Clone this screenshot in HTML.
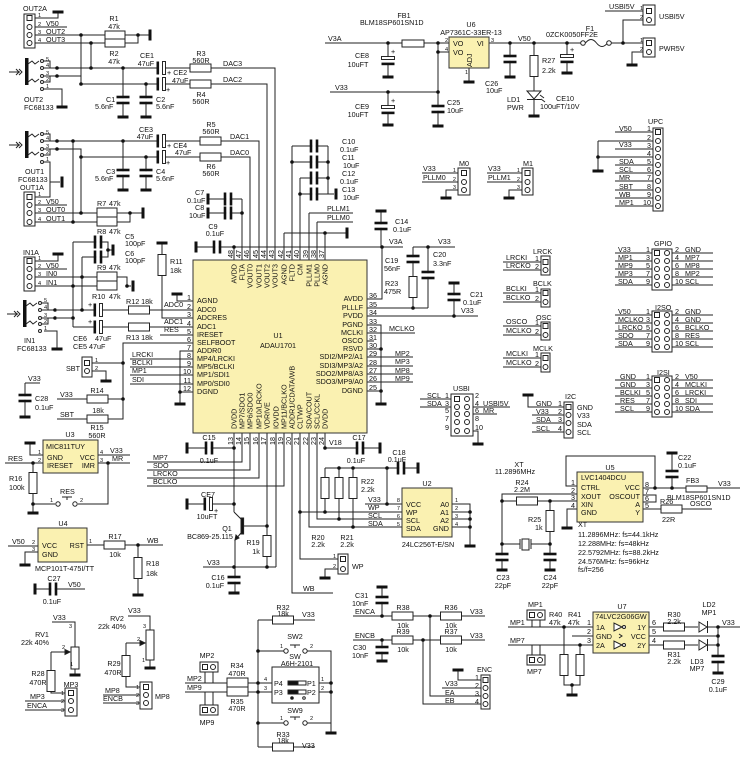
<!DOCTYPE html>
<html><head><meta charset="utf-8">
<style>
html,body{margin:0;padding:0;background:#fff}
svg{display:block}
text{font-family:"Liberation Sans",sans-serif;font-size:7.2px;fill:#111}
.m{text-anchor:middle}.e{text-anchor:end}
.s{font-size:6.6px}.n{font-size:5.6px}
</style></head><body>
<svg width="740" height="763" viewBox="0 0 740 763" xmlns="http://www.w3.org/2000/svg">
<defs>
<rect id="gh" x="-5.5" y="-1.5" width="11" height="3" fill="#111"/>
<rect id="gv" x="-1.5" y="-5.5" width="3" height="11" fill="#111"/>
<circle id="d" r="1.8" fill="#111"/>
<g id="cv"><rect x="-7" y="-1.8" width="14" height="3.6" fill="#fff"/><rect x="-6.5" y="-4.3" width="13" height="2.6" fill="#111"/><rect x="-6.5" y="1.7" width="13" height="2.6" fill="#111"/></g>
<g id="ch"><rect x="-1.8" y="-7" width="3.6" height="14" fill="#fff"/><rect x="-4.3" y="-6.5" width="2.6" height="13" fill="#111"/><rect x="1.7" y="-6.5" width="2.6" height="13" fill="#111"/></g>
<g id="eh"><rect x="-2" y="-7" width="4" height="14" fill="#fff"/><rect x="-4.5" y="-6.5" width="2.6" height="13" fill="#111"/><rect x="1.5" y="-6.5" width="3" height="13" fill="#fff" stroke="#111" stroke-width="0.9"/></g>
<g id="ev"><rect x="-7" y="-2" width="14" height="4" fill="#fff"/><rect x="-6.5" y="-4.5" width="13" height="3" fill="#fff" stroke="#111" stroke-width="0.9"/><rect x="-6.5" y="1.6" width="13" height="2.6" fill="#111"/></g>
<rect id="rh" x="-10.5" y="-4" width="21" height="8" fill="#fff" stroke="#222"/>
<rect id="rv" x="-4" y="-10.5" width="8" height="21" fill="#fff" stroke="#222"/>
<circle id="p" r="2.5" fill="#fff" stroke="#222"/>
<rect id="s" x="-2.5" y="-2.5" width="5" height="5" fill="#fff" stroke="#222"/>
<g id="jk"><rect x="25" y="0" width="3.5" height="27" fill="#111"/>
<path d="M9 14H20M16 11l3 3-3 3M19 11l3 3-3 3M28 6l4-3 3 3 4-3M28 24l4-3 3 3 4-3M44 10H57M44 3H50V10M44 18H57M44 24H50V18" fill="none" stroke="#222"/>
<circle cx="42" cy="3" r="1.5" fill="#fff" stroke="#222"/><circle cx="42" cy="10" r="1.5" fill="#fff" stroke="#222"/><circle cx="42" cy="18" r="1.5" fill="#fff" stroke="#222"/><circle cx="42" cy="24" r="1.5" fill="#fff" stroke="#222"/><circle cx="42" cy="31" r="1.5" fill="#fff" stroke="#222"/></g>
</defs>

<!-- WIRES -->
<path fill="none" stroke="#222" stroke-width="1" d="
M35 18H58V12M35 27H67M35 35H105M35 43H105M125 35H150M125 43H138V35
M81 35V84M91 43V68
M57 68H275V260M57 76H81M81 84H267V260
M123 68V117M146 84V117
M57 141H259V260M57 149H81V213M81 157H250V260
M73 141V222M123 141V190M146 157V190
M44 89H62V106M44 162H50V182H60
M35 197H50V182M35 205H67M35 213H142M35 222H97M117 222H130V213
M73 242H108V257H82M108 250H112
M73 242V327M82 257V310
M35 261H58V254M35 269H67M35 277H97M35 286H97M117 277H127V286H131
M57 310H193M57 318H73M73 327H193M44 331H57V348
M162 243V318H193M193 301H177V294M160 335H193
M193 343H123V419H57M57 399H123
M92 363H123M92 371H106V380
M193 351H180V403M180 392H193
M130 359H193M130 367H193M130 375H193M130 384H193
M25 383H40M25 383V416
M43 455H30V443M43 463H5M33 463V512M33 504H55M78 504H108V463M98 455H130M98 463H130
M62 497H72M67 497V500
M8 546H38M38 552H25V564M87 545H163M138 545V594
M35 589H85
M52 622H75V674M51 652H68M51 652V693H65M25 701H65M25 710H65
M128 616H150V667M126 643H144M126 643V687H140M103 695H140M103 703H140
M258 620V747M258 620H315M258 651H284M307 651H331V732M318 683H331M318 692H331M258 723H284M307 723H331M258 747H315
M290 645H300M295 645V648M290 717H300M295 717V720
M185 683H272M185 692H272M205 672V683M213 672V683M205 705V692M213 705V692
M187 448H234M234 433V512M187 504H234M234 512L241 519M241 533L235 540V593M243 526H267
M267 433V567M203 567H276M276 433V567
M147 462H242V433M147 470H250V433M147 478H259V433M147 486H284V433
M292 433V593H333M300 433V559H338M309 433V527H402M317 433V519H402M300 512H402
M325 468V512M339 468V519M353 468V527M325 468H418M387 468V504M365 504H402
M325 433V448H380M338 569H325V577
M452 504H470V545M452 512H470M452 519H470M452 527H470
M367 299H382V247M196 247H403M381 211V247
M413 247H455M413 247V308M428 247V308M367 308H428
M367 316H478M454 283V316
M367 325H381V403M367 349H381M367 391H381
M367 333H415M367 341H374M367 357H413M367 366H413M367 374H413M367 382H413
M234 247V260M242 199V260M208 199H242M208 213H242M284 233H347M284 233V260M325 233V260
M292 146V260M292 146H328M292 162H328M300 178V260M300 178H328M300 194H334M328 146V194
M309 213H353M309 213V260M317 222H353M317 222V260
M186 301H193M186 310H193M186 318H193M186 327H193M186 335H193M186 343H193M186 351H193M186 359H193M186 367H193M186 375H193M186 384H193M186 392H193
M367 299H374M367 308H374M367 316H374M367 325H374M367 333H374M367 341H374M367 349H374M367 357H374M367 366H374M367 374H374M367 382H374M367 391H374
M325 43H449M388 43V76M438 43V92M438 52H449M330 92H438M388 92V124M438 92V125M469 68V81
M489 43H581M611 43H643M623 43V20H643M605 11H643M510 43V76M534 43V115M567 43V72M643 52H632V64
M585.5 43q5.5 -7 11 0t11 0
M422 173H458M422 182H458M458 190H446V197M487 173H522M487 182H522M522 190H509V197
M615 132H653M598 141H653M598 141V170M615 149H653M598 157H653M615 165H653M615 173H653M615 181H653M615 190H653M615 198H653M615 206H653
M503 262H541M503 270H541M503 293H541M503 302H541M503 326H541M503 335H541M503 358H541M503 367H541
M615 253H652M615 261H652M615 269H652M615 277H652M615 285H652M672 253H713M672 261H713M672 269H713M672 277H713M672 285H713
M615 315H652M615 323H652M615 331H652M615 339H652M615 347H652M672 315H713M672 323H713M672 331H713M672 339H713M672 347H713
M615 380H652M615 388H652M615 396H652M615 404H652M615 412H652M672 380H713M672 388H713M672 396H713M672 404H713M672 412H713
M420 399H451M420 407H451M473 407H510M473 414H497M473 431H478V443
M528 395V407H564M532 415H564M532 423H564M532 432H564
M577 486H566V456H655V488M643 488H740M672 453V488M643 495H656V502H643M643 509H712
M577 494H502V569M502 501H577M550 501V569M502 544H520M531 544H550M577 509H567V527
M520 539V549M531 539V549
M382 587V616M353 616H485M353 640H485M382 640V660M430 616V696H481M423 640V704H481M442 688H481M481 680H458V670
M508 627H593M532 620V627M540 620V627M508 645H593M532 645V655M540 645V655
M564 627V685H580V645M572 685V694M593 636H572
M649 627H698M649 645H698M649 636H718M708 627H740M708 645H718M718 627V672
"/>

<!-- jacks -->
<use href="#jk" x="0" y="58"/>
<use href="#jk" x="0" y="131"/>
<use href="#jk" x="-2" y="300"/>

<!-- yellow ICs -->
<g fill="#faf1b1" stroke="#333" stroke-width="1">
<rect x="193" y="260" width="174" height="173"/>
<rect x="43" y="440" width="55" height="33"/>
<rect x="38" y="528" width="49" height="34"/>
<rect x="402" y="488" width="50" height="49"/>
<rect x="449" y="37" width="40" height="31"/>
<rect x="577" y="472" width="66" height="50"/>
<rect x="593" y="612" width="56" height="41"/>
</g>

<!-- resistors / boxes -->
<g fill="#fff" stroke="#222">
<rect x="105" y="31" width="20" height="16"/><path d="M105 39H125"/>
<rect x="97" y="208" width="20" height="18"/><path d="M97 217H117"/>
<rect x="97" y="272" width="20" height="18"/><path d="M97 281H117"/>
<rect x="227" y="678" width="21" height="18"/><path d="M227 687H248"/>
<rect x="402" y="40" width="22" height="7"/>
<rect x="686" y="486" width="21" height="6"/>
<rect x="71" y="647" width="8" height="22"/>
<rect x="146" y="630" width="8" height="30"/>
<rect x="272" y="667" width="47" height="36"/>
<rect x="522" y="539" width="7" height="11"/>
<rect x="24" y="14" width="11" height="34"/>
<rect x="24" y="192" width="11" height="34"/>
<rect x="24" y="257" width="11" height="34"/>
<rect x="82" y="357" width="10" height="20"/>
<rect x="65" y="688" width="12" height="28"/>
<rect x="140" y="682" width="12" height="27"/>
<rect x="200" y="662" width="18" height="10"/>
<rect x="200" y="705" width="18" height="10"/>
<rect x="338" y="554" width="10" height="20"/>
<rect x="643" y="5" width="12" height="20"/>
<rect x="643" y="38" width="12" height="19"/>
<rect x="458" y="168" width="12" height="27"/>
<rect x="522" y="168" width="11" height="27"/>
<rect x="653" y="128" width="10" height="83"/>
<rect x="541" y="256" width="9" height="19"/>
<rect x="541" y="289" width="9" height="18"/>
<rect x="541" y="322" width="9" height="18"/>
<rect x="541" y="353" width="9" height="19"/>
<rect x="652" y="249" width="20" height="41"/>
<rect x="652" y="311" width="20" height="41"/>
<rect x="652" y="376" width="20" height="41"/>
<rect x="451" y="394" width="22" height="42"/>
<rect x="564" y="402" width="9" height="36"/>
<rect x="481" y="675" width="9" height="34"/>
<rect x="527" y="610" width="18" height="10"/>
<rect x="527" y="655" width="18" height="10"/>
</g>
<g>
<use href="#rh" x="200.5" y="68"/><use href="#rh" x="200.5" y="84"/><use href="#rh" x="210.5" y="141"/><use href="#rh" x="210.5" y="157"/>
<use href="#rh" x="139" y="310"/><use href="#rh" x="139" y="327"/><use href="#rh" x="97.5" y="399"/><use href="#rh" x="97.5" y="419"/>
<use href="#rh" x="114.5" y="545"/><use href="#rh" x="283" y="620"/><use href="#rh" x="283" y="747"/>
<use href="#rh" x="402.5" y="616"/><use href="#rh" x="451" y="616"/><use href="#rh" x="402.5" y="640"/><use href="#rh" x="451" y="640"/>
<use href="#rh" x="527" y="501"/><use href="#rh" x="671.5" y="509"/><use href="#rh" x="674" y="627"/><use href="#rh" x="674" y="645"/>
<use href="#rv" x="162" y="265"/><use href="#rv" x="33" y="483"/><use href="#rv" x="138" y="568"/><use href="#rv" x="51" y="681"/>
<use href="#rv" x="126" y="666"/><use href="#rv" x="267" y="546"/><use href="#rv" x="325" y="488"/><use href="#rv" x="339" y="488"/>
<use href="#rv" x="353" y="488"/><use href="#rv" x="413" y="287"/><use href="#rv" x="534" y="66"/><use href="#rv" x="550" y="521"/>
<use href="#rv" x="564" y="665"/><use href="#rv" x="580" y="665"/>
<use href="#cv" x="123" y="100"/><use href="#cv" x="146" y="100"/><use href="#cv" x="123" y="173"/><use href="#cv" x="146" y="173"/>
<use href="#cv" x="25" y="398"/><use href="#cv" x="234" y="580"/><use href="#cv" x="381" y="226"/><use href="#cv" x="413" y="259"/>
<use href="#cv" x="428" y="275"/><use href="#cv" x="454" y="297"/><use href="#cv" x="438" y="109"/><use href="#cv" x="510" y="59"/>
<use href="#cv" x="672" y="474"/><use href="#cv" x="502" y="557"/><use href="#cv" x="550" y="557"/><use href="#cv" x="382" y="600"/>
<use href="#cv" x="382" y="650"/><use href="#cv" x="718" y="659"/>
<use href="#ch" x="98" y="242"/><use href="#ch" x="98" y="257"/><use href="#ch" x="228" y="199"/><use href="#ch" x="228" y="213"/>
<use href="#ch" x="217" y="247"/><use href="#ch" x="314" y="146"/><use href="#ch" x="314" y="162"/><use href="#ch" x="314" y="178"/>
<use href="#ch" x="314" y="194"/><use href="#ch" x="209" y="448"/><use href="#ch" x="360" y="448"/><use href="#ch" x="401" y="468"/>
<use href="#ch" x="53" y="589"/>
<use href="#eh" x="161" y="68"/><use href="#eh" x="161" y="84"/><use href="#eh" x="161" y="141"/><use href="#eh" x="161" y="157"/>
<use href="#eh" x="98" y="310"/><use href="#eh" x="98" y="327"/><use href="#eh" x="208" y="504"/>
<use href="#ev" x="388" y="61"/><use href="#ev" x="388" y="110"/><use href="#ev" x="567" y="59"/>
<use href="#gh" x="58" y="12"/><use href="#gh" x="123" y="117"/><use href="#gh" x="146" y="117"/><use href="#gh" x="123" y="190"/>
<use href="#gh" x="146" y="190"/><use href="#gh" x="62" y="107"/><use href="#gh" x="58" y="254"/><use href="#gh" x="162" y="243"/>
<use href="#gh" x="177" y="294"/><use href="#gh" x="57" y="349"/><use href="#gh" x="106" y="381"/><use href="#gh" x="180" y="404"/>
<use href="#gh" x="25" y="417"/><use href="#gh" x="30" y="443"/><use href="#gh" x="33" y="513"/><use href="#gh" x="25" y="565"/>
<use href="#gh" x="138" y="595"/><use href="#gh" x="75" y="675"/><use href="#gh" x="150" y="668"/><use href="#gh" x="331" y="733"/>
<use href="#gh" x="234" y="593"/><use href="#gh" x="325" y="578"/><use href="#gh" x="470" y="546"/><use href="#gh" x="381" y="404"/>
<use href="#gh" x="381" y="211"/><use href="#gh" x="454" y="283"/><use href="#gh" x="388" y="77"/><use href="#gh" x="388" y="125"/>
<use href="#gh" x="438" y="126"/><use href="#gh" x="469" y="82"/><use href="#gh" x="510" y="77"/><use href="#gh" x="534" y="116"/>
<use href="#gh" x="567" y="73"/><use href="#gh" x="632" y="65"/><use href="#gh" x="446" y="198"/><use href="#gh" x="509" y="198"/>
<use href="#gh" x="598" y="171"/><use href="#gh" x="478" y="444"/><use href="#gh" x="528" y="395"/><use href="#gh" x="672" y="453"/>
<use href="#gh" x="567" y="528"/><use href="#gh" x="502" y="570"/><use href="#gh" x="550" y="570"/><use href="#gh" x="382" y="587"/>
<use href="#gh" x="382" y="661"/><use href="#gh" x="458" y="670"/><use href="#gh" x="572" y="695"/><use href="#gh" x="718" y="673"/>
<use href="#gv" x="150" y="35"/><use href="#gv" x="62" y="182"/><use href="#gv" x="143" y="213"/><use href="#gv" x="113" y="250"/>
<use href="#gv" x="133" y="286"/><use href="#gv" x="35" y="589"/><use href="#gv" x="187" y="448"/><use href="#gv" x="187" y="504"/>
<use href="#gv" x="380" y="448"/><use href="#gv" x="418" y="468"/><use href="#gv" x="196" y="247"/><use href="#gv" x="208" y="199"/>
<use href="#gv" x="208" y="213"/><use href="#gv" x="347" y="233"/><use href="#gv" x="336" y="194"/>
<use href="#s" x="29.5" y="18"/><use href="#p" x="29.5" y="27"/><use href="#p" x="29.5" y="35"/><use href="#p" x="29.5" y="43"/>
<use href="#s" x="29.5" y="197"/><use href="#p" x="29.5" y="205"/><use href="#p" x="29.5" y="213"/><use href="#p" x="29.5" y="222"/>
<use href="#s" x="29.5" y="261"/><use href="#p" x="29.5" y="269"/><use href="#p" x="29.5" y="277"/><use href="#p" x="29.5" y="286"/>
<use href="#s" x="87" y="363"/><use href="#p" x="87" y="371"/>
<use href="#s" x="71" y="693"/><use href="#p" x="71" y="701"/><use href="#p" x="71" y="710"/>
<use href="#s" x="146" y="687"/><use href="#p" x="146" y="695"/><use href="#p" x="146" y="703"/>
<use href="#s" x="205" y="667"/><use href="#p" x="213" y="667"/><use href="#s" x="205" y="710"/><use href="#p" x="213" y="710"/>
<use href="#s" x="343" y="559"/><use href="#p" x="343" y="569"/>
<use href="#s" x="649" y="11"/><use href="#p" x="649" y="20"/><use href="#s" x="649" y="43"/><use href="#p" x="649" y="52"/>
<use href="#s" x="464" y="173"/><use href="#p" x="464" y="182"/><use href="#p" x="464" y="190"/>
<use href="#s" x="527.5" y="173"/><use href="#p" x="527.5" y="182"/><use href="#p" x="527.5" y="190"/>
<use href="#s" x="658" y="132"/><use href="#p" x="658" y="141"/><use href="#p" x="658" y="149"/><use href="#p" x="658" y="157"/><use href="#p" x="658" y="165"/><use href="#p" x="658" y="173"/><use href="#p" x="658" y="181"/><use href="#p" x="658" y="190"/><use href="#p" x="658" y="198"/><use href="#p" x="658" y="206"/>
<use href="#s" x="545.5" y="262"/><use href="#p" x="545.5" y="270"/><use href="#s" x="545.5" y="293"/><use href="#p" x="545.5" y="302"/>
<use href="#s" x="545.5" y="326"/><use href="#p" x="545.5" y="335"/><use href="#s" x="545.5" y="358"/><use href="#p" x="545.5" y="367"/>
<use href="#s" x="657" y="253"/><use href="#p" x="657" y="261"/><use href="#p" x="657" y="269"/><use href="#p" x="657" y="277"/><use href="#p" x="657" y="285"/>
<use href="#p" x="667" y="253"/><use href="#p" x="667" y="261"/><use href="#p" x="667" y="269"/><use href="#p" x="667" y="277"/><use href="#p" x="667" y="285"/>
<use href="#s" x="657" y="315"/><use href="#p" x="657" y="323"/><use href="#p" x="657" y="331"/><use href="#p" x="657" y="339"/><use href="#p" x="657" y="347"/>
<use href="#p" x="667" y="315"/><use href="#p" x="667" y="323"/><use href="#p" x="667" y="331"/><use href="#p" x="667" y="339"/><use href="#p" x="667" y="347"/>
<use href="#s" x="657" y="380"/><use href="#p" x="657" y="388"/><use href="#p" x="657" y="396"/><use href="#p" x="657" y="404"/><use href="#p" x="657" y="412"/>
<use href="#p" x="667" y="380"/><use href="#p" x="667" y="388"/><use href="#p" x="667" y="396"/><use href="#p" x="667" y="404"/><use href="#p" x="667" y="412"/>
<use href="#s" x="457" y="399"/><use href="#p" x="457" y="407"/><use href="#p" x="457" y="414"/><use href="#p" x="457" y="422"/><use href="#p" x="457" y="431"/>
<use href="#p" x="467" y="399"/><use href="#p" x="467" y="407"/><use href="#p" x="467" y="414"/><use href="#p" x="467" y="422"/><use href="#p" x="467" y="431"/>
<use href="#s" x="568.5" y="407"/><use href="#p" x="568.5" y="415"/><use href="#p" x="568.5" y="423"/><use href="#p" x="568.5" y="432"/>
<use href="#s" x="485.5" y="680"/><use href="#p" x="485.5" y="688"/><use href="#p" x="485.5" y="696"/><use href="#p" x="485.5" y="704"/>
<use href="#s" x="532" y="615"/><use href="#p" x="540" y="615"/><use href="#s" x="532" y="660"/><use href="#p" x="540" y="660"/>
</g>

<g fill="#111" stroke="#222">
<rect x="241" y="518" width="2.6" height="16"/>
<polygon points="235,540 236,535 239,538" />
<polygon points="70,652 65,649.5 65,654.5"/>
<polygon points="145,643 140,640.5 140,645.5"/>
<polygon points="527,91 541,91 534,99" fill="#fff"/><path d="M527 99.5H541M540 95l4 3M541 99l4 3" fill="none"/>
<polygon points="699,622 699,632 707,627" fill="#fff"/><path d="M707.5 621V633" fill="none"/>
<polygon points="699,640 699,650 707,645" fill="#fff"/><path d="M707.5 639V651" fill="none"/>
<polygon points="614,623 614,631 622,627" fill="#fff"/><circle cx="624" cy="627" r="1.5" fill="#fff"/>
<polygon points="614,641 614,649 622,645" fill="#fff"/><circle cx="624" cy="645" r="1.5" fill="#fff"/>
<path d="M619 634l3 2-3 2" fill="none"/>
<rect x="288" y="681" width="10" height="4"/><rect x="298" y="681" width="8" height="4" fill="#fff"/>
<rect x="288" y="690" width="10" height="4"/><rect x="298" y="690" width="8" height="4" fill="#fff"/>
<circle cx="292" cy="698" r="1.3"/><circle cx="304" cy="698" r="1.3" fill="#fff"/>
</g>
<g fill="#fff" stroke="#222">
<circle cx="58" cy="504" r="2.2"/><circle cx="75" cy="504" r="2.2"/>
<circle cx="286" cy="651" r="2.2"/><circle cx="305" cy="651" r="2.2"/>
<circle cx="286" cy="723" r="2.2"/><circle cx="305" cy="723" r="2.2"/>
<circle cx="583" cy="43" r="2.3"/><circle cx="609" cy="43" r="2.3"/>
</g>

<g>
<use href="#d" x="81" y="35"/><use href="#d" x="91" y="43"/><use href="#d" x="138" y="35"/><use href="#d" x="57" y="68"/><use href="#d" x="57" y="76"/>
<use href="#d" x="91" y="68"/><use href="#d" x="81" y="84"/><use href="#d" x="123" y="68"/><use href="#d" x="146" y="84"/>
<use href="#d" x="57" y="141"/><use href="#d" x="57" y="149"/><use href="#d" x="73" y="141"/><use href="#d" x="123" y="141"/><use href="#d" x="146" y="157"/>
<use href="#d" x="81" y="157"/><use href="#d" x="81" y="213"/><use href="#d" x="73" y="222"/><use href="#d" x="130" y="213"/><use href="#d" x="108" y="250"/>
<use href="#d" x="82" y="277"/><use href="#d" x="73" y="286"/><use href="#d" x="127" y="286"/><use href="#d" x="55" y="310"/><use href="#d" x="55" y="318"/>
<use href="#d" x="82" y="310"/><use href="#d" x="73" y="318"/><use href="#d" x="123" y="363"/><use href="#d" x="123" y="399"/><use href="#d" x="180" y="392"/>
<use href="#d" x="33" y="463"/><use href="#d" x="108" y="463"/><use href="#d" x="33" y="504"/><use href="#d" x="138" y="545"/>
<use href="#d" x="258" y="651"/><use href="#d" x="258" y="683"/><use href="#d" x="258" y="692"/><use href="#d" x="258" y="723"/><use href="#d" x="331" y="683"/><use href="#d" x="331" y="692"/>
<use href="#d" x="234" y="448"/><use href="#d" x="234" y="504"/><use href="#d" x="267" y="526"/><use href="#d" x="234" y="567"/><use href="#d" x="267" y="567"/>
<use href="#d" x="300" y="512"/><use href="#d" x="325" y="512"/><use href="#d" x="339" y="519"/><use href="#d" x="353" y="527"/><use href="#d" x="339" y="468"/>
<use href="#d" x="353" y="468"/><use href="#d" x="387" y="468"/><use href="#d" x="387" y="504"/><use href="#d" x="325" y="448"/><use href="#d" x="470" y="512"/>
<use href="#d" x="470" y="519"/><use href="#d" x="470" y="527"/><use href="#d" x="234" y="247"/><use href="#d" x="382" y="247"/><use href="#d" x="242" y="213"/>
<use href="#d" x="325" y="233"/><use href="#d" x="292" y="162"/><use href="#d" x="300" y="194"/><use href="#d" x="328" y="162"/><use href="#d" x="328" y="178"/>
<use href="#d" x="413" y="308"/><use href="#d" x="428" y="247"/><use href="#d" x="454" y="316"/><use href="#d" x="381" y="349"/><use href="#d" x="381" y="391"/>
<use href="#d" x="388" y="43"/><use href="#d" x="438" y="43"/><use href="#d" x="438" y="52"/><use href="#d" x="438" y="92"/><use href="#d" x="388" y="92"/>
<use href="#d" x="510" y="43"/><use href="#d" x="534" y="43"/><use href="#d" x="567" y="43"/><use href="#d" x="623" y="43"/><use href="#d" x="598" y="157"/>
<use href="#d" x="655" y="488"/><use href="#d" x="672" y="488"/><use href="#d" x="502" y="501"/><use href="#d" x="550" y="501"/><use href="#d" x="502" y="544"/>
<use href="#d" x="550" y="544"/><use href="#d" x="382" y="616"/><use href="#d" x="430" y="616"/><use href="#d" x="382" y="640"/><use href="#d" x="423" y="640"/>
<use href="#d" x="564" y="627"/><use href="#d" x="580" y="645"/><use href="#d" x="572" y="685"/><use href="#d" x="718" y="627"/><use href="#d" x="718" y="636"/><use href="#d" x="718" y="645"/>
</g>

<!-- TEXT -->
<g>
<text x="23" y="11">OUT2A</text>
<text x="38" y="17" class="n">1</text><text x="38" y="26" class="n">2</text><text x="46" y="26">V50</text>
<text x="38" y="34" class="n">3</text><text x="46" y="34">OUT2</text><text x="38" y="42" class="n">4</text><text x="46" y="42">OUT3</text>
<text x="114" y="21" class="m">R1</text><text x="114" y="29" class="m">47k</text><text x="114" y="56" class="m">R2</text><text x="114" y="64" class="m">47k</text>
<text x="46" y="61" class="n">5</text><text x="46" y="67" class="n">4</text><text x="46" y="75" class="n">3</text><text x="46" y="81" class="n">2</text><text x="46" y="88" class="n">1</text>
<text x="24" y="102">OUT2</text><text x="24" y="110">FC68133</text>
<text x="106" y="102">C1</text><text x="95" y="109">5.6nF</text><text x="156" y="102">C2</text><text x="156" y="109">5.6nF</text>
<text x="147" y="58" class="m">CE1</text><text x="146" y="66" class="m">47uF</text><text x="167" y="75">+ CE2</text><text x="172" y="83">47uF</text><text x="166" y="92">+</text>
<text x="201" y="56" class="m">R3</text><text x="201" y="63" class="m">560R</text><text x="201" y="97" class="m">R4</text><text x="201" y="104" class="m">560R</text>
<text x="223" y="66">DAC3</text><text x="223" y="82">DAC2</text>
<text x="146" y="132" class="m">CE3</text><text x="145" y="139" class="m">47uF</text><text x="167" y="148">+ CE4</text><text x="175" y="155">47uF</text><text x="166" y="165">+</text>
<text x="211" y="127" class="m">R5</text><text x="211" y="134" class="m">560R</text><text x="211" y="169" class="m">R6</text><text x="211" y="176" class="m">560R</text>
<text x="230" y="139">DAC1</text><text x="230" y="155">DAC0</text>
<text x="106" y="174">C3</text><text x="95" y="181">5.6nF</text><text x="156" y="174">C4</text><text x="156" y="181">5.6nF</text>
<text x="46" y="134" class="n">5</text><text x="46" y="140" class="n">4</text><text x="46" y="148" class="n">3</text><text x="46" y="154" class="n">2</text><text x="46" y="161" class="n">1</text>
<text x="25" y="174">OUT1</text><text x="18" y="182">FC68133</text><text x="20" y="190">OUT1A</text>
<text x="38" y="196" class="n">1</text><text x="38" y="204" class="n">2</text><text x="46" y="204">V50</text>
<text x="38" y="212" class="n">3</text><text x="46" y="212">OUT0</text><text x="38" y="221" class="n">4</text><text x="46" y="221">OUT1</text>
<text x="97" y="206">R7</text><text x="109" y="206">47k</text><text x="97" y="234">R8</text><text x="109" y="234">47k</text>
<text x="125" y="239">C5</text><text x="125" y="246">100pF</text><text x="125" y="256">C6</text><text x="125" y="263">100pF</text>
<text x="23" y="255">IN1A</text>
<text x="38" y="260" class="n">1</text><text x="38" y="268" class="n">2</text><text x="46" y="268">V50</text>
<text x="38" y="276" class="n">3</text><text x="46" y="276">IN0</text><text x="38" y="285" class="n">4</text><text x="46" y="285">IN1</text>
<text x="97" y="270">R9</text><text x="109" y="270">47k</text><text x="92" y="299">R10</text><text x="109" y="299">47k</text>
<text x="170" y="264">R11</text><text x="170" y="273">18k</text>
<text x="126" y="304">R12 18k</text><text x="126" y="340">R13 18k</text>
<text x="164" y="307">ADC0</text><text x="164" y="324">ADC1</text><text x="164" y="332">RES</text>
<text x="88" y="307">+</text><text x="88" y="324">+</text>
<text x="73" y="341">CE6</text><text x="95" y="341">47uF</text><text x="73" y="349">CE5 47uF</text>
<text x="44" y="302" class="n">5</text><text x="44" y="309" class="n">4</text><text x="44" y="317" class="n">3</text><text x="44" y="323" class="n">2</text><text x="44" y="330" class="n">1</text>
<text x="24" y="343">IN1</text><text x="17" y="351">FC68133</text>
<text x="66" y="371">SBT</text><text x="95" y="362" class="n">1</text><text x="95" y="370" class="n">2</text>
<text x="132" y="357">LRCKI</text><text x="132" y="365">BCLKI</text><text x="132" y="373">MP1</text><text x="132" y="382">SDI</text>
<text x="60" y="397">V33</text><text x="97" y="393" class="m">R14</text><text x="98" y="413" class="m">18k</text>
<text x="60" y="417">SBT</text><text x="97" y="430" class="m">R15</text><text x="97" y="438" class="m">560R</text>
<text x="28" y="381">V33</text><text x="35" y="401">C28</text><text x="35" y="410">0.1uF</text>
<text x="70" y="437" class="m">U3</text><text x="46" y="449">MIC811TUY</text>
<text x="47" y="460">GND</text><text x="47" y="468">IRESET</text><text x="95" y="460" class="e">VCC</text><text x="95" y="468" class="e">IMR</text>
<text x="38" y="454" class="n">1</text><text x="38" y="462" class="n">2</text><text x="100" y="454" class="n">4</text><text x="100" y="462" class="n">3</text>
<text x="8" y="461">RES</text><text x="110" y="453">V33</text><text x="112" y="461">MR</text>
<text x="9" y="481">R16</text><text x="9" y="490">100k</text>
<text x="60" y="494">RES</text><text x="50" y="502" class="n">1</text><text x="80" y="502" class="n">2</text>
<text x="63" y="526" class="m">U4</text><text x="42" y="548">VCC</text><text x="42" y="557">GND</text><text x="84" y="548" class="e">RST</text>
<text x="32" y="544" class="n">2</text><text x="32" y="551" class="n">3</text><text x="89" y="543" class="n">1</text>
<text x="12" y="544">V50</text><text x="35" y="571">MCP101T-475I/TT</text>
<text x="115" y="539" class="m">R17</text><text x="115" y="557" class="m">10k</text><text x="147" y="543">WB</text>
<text x="146" y="566">R18</text><text x="146" y="576">18k</text>
<text x="54" y="581" class="m">C27</text><text x="52" y="604" class="m">0.1uF</text><text x="68" y="587">V50</text>
<text x="53" y="620">V33</text><text x="42" y="637" class="m">RV1</text><text x="35" y="645" class="m">22k 40%</text>
<text x="62" y="649" class="n">2</text><text x="69" y="628" class="n">3</text><text x="70" y="666" class="n">1</text>
<text x="38" y="676" class="m">R28</text><text x="38" y="685" class="m">470R</text>
<text x="71" y="687" class="m">MP3</text><text x="61" y="695" class="n">1</text><text x="61" y="703" class="n">2</text><text x="61" y="712" class="n">3</text>
<text x="30" y="699">MP3</text><text x="27" y="708">ENCA</text>
<text x="128" y="613">V33</text><text x="117" y="621" class="m">RV2</text><text x="112" y="629" class="m">22k 40%</text>
<text x="137" y="641" class="n">2</text><text x="143" y="628" class="n">3</text><text x="142" y="662" class="n">1</text>
<text x="114" y="666" class="m">R29</text><text x="113" y="675" class="m">470R</text>
<text x="105" y="693">MP8</text><text x="103" y="701">ENCB</text><text x="155" y="699">MP8</text>
<text x="136" y="689" class="n">1</text><text x="136" y="697" class="n">2</text><text x="136" y="705" class="n">3</text>
<text x="283" y="610" class="m">R32</text><text x="283" y="616" class="m">18k</text><text x="302" y="617">V33</text>
<text x="295" y="639" class="m">SW2</text><text x="280" y="648" class="n">1</text><text x="310" y="648" class="n">2</text>
<text x="295" y="659" class="m">SW</text><text x="297" y="666" class="m">A6H-2101</text>
<text x="264" y="681" class="n">4</text><text x="264" y="690" class="n">3</text><text x="274" y="686">P4</text><text x="274" y="695">P3</text>
<text x="307" y="686">P1</text><text x="307" y="695">P2</text><text x="321" y="681" class="n">1</text><text x="321" y="690" class="n">2</text>
<text x="295" y="713" class="m">SW9</text><text x="280" y="720" class="n">1</text><text x="310" y="720" class="n">2</text>
<text x="283" y="737" class="m">R33</text><text x="283" y="743" class="m">18k</text><text x="302" y="748">V33</text>
<text x="207" y="658" class="m">MP2</text><text x="207" y="725" class="m">MP9</text><text x="187" y="681">MP2</text><text x="187" y="690">MP9</text>
<text x="237" y="668" class="m">R34</text><text x="237" y="676" class="m">470R</text><text x="237" y="704" class="m">R35</text><text x="237" y="711" class="m">470R</text>
<text x="209" y="440" class="m">C15</text><text x="209" y="463" class="m">0.1uF</text>
<text x="153" y="460">MP7</text><text x="153" y="468">SDO</text><text x="153" y="476">LRCKO</text><text x="153" y="484">BCLKO</text>
<text x="208" y="497" class="m">CE7</text><text x="207" y="519" class="m">10uFT</text><text x="214" y="513">+</text>
<text x="227" y="531" class="m">Q1</text><text x="210" y="539" class="m">BC869-25.115</text>
<text x="253" y="545" class="m">R19</text><text x="256" y="554" class="m">1k</text>
<text x="207" y="565">V33</text><text x="218" y="580" class="m">C16</text><text x="215" y="588" class="m">0.1uF</text>
<text x="329" y="445">V18</text><text x="359" y="440" class="m">C17</text><text x="356" y="463" class="m">0.1uF</text>
<text x="399" y="455" class="m">C18</text><text x="397" y="462" class="m">0.1uF</text>
<text x="368" y="502">V33</text><text x="368" y="510">WP</text><text x="368" y="518">SCL</text><text x="368" y="526">SDA</text>
<text x="318" y="540" class="m">R20</text><text x="318" y="547" class="m">2.2k</text><text x="347" y="540" class="m">R21</text><text x="347" y="547" class="m">2.2k</text>
<text x="361" y="484">R22</text><text x="361" y="492">2.2k</text>
<text x="427" y="486" class="m">U2</text><text x="406" y="507">VCC</text><text x="406" y="515">WP</text><text x="406" y="523">SCL</text><text x="406" y="531">SDA</text>
<text x="449" y="507" class="e">A0</text><text x="449" y="515" class="e">A1</text><text x="449" y="523" class="e">A2</text><text x="449" y="531" class="e">GND</text>
<text x="400" y="502" class="n e">8</text><text x="400" y="510" class="n e">7</text><text x="400" y="518" class="n e">6</text><text x="400" y="526" class="n e">5</text>
<text x="455" y="502" class="n">1</text><text x="455" y="510" class="n">2</text><text x="455" y="518" class="n">3</text><text x="455" y="526" class="n">4</text>
<text x="428" y="547" class="m">24LC256T-E/SN</text>
<text x="303" y="591">WB</text><text x="333" y="558" class="n">1</text><text x="333" y="568" class="n">2</text><text x="352" y="569">WP</text>

<text x="278" y="338" class="m">U1</text><text x="278" y="348" class="m">ADAU1701</text>
<g class="s">
<text x="197" y="303">AGND</text><text x="197" y="312">ADC0</text><text x="197" y="320">ADCRES</text><text x="197" y="329">ADC1</text>
<text x="197" y="337">IRESET</text><text x="197" y="345">SELFBOOT</text><text x="197" y="353">ADDR0</text><text x="197" y="361">MP4/LRCKI</text>
<text x="197" y="369">MP5/BCLKI</text><text x="197" y="377">MP1/SDI1</text><text x="197" y="386">MP0/SDI0</text><text x="197" y="394">DGND</text>
<text x="363" y="301" class="e">AVDD</text><text x="363" y="310" class="e">PLLLF</text><text x="363" y="318" class="e">PVDD</text><text x="363" y="327" class="e">PGND</text>
<text x="363" y="335" class="e">MCLKI</text><text x="363" y="343" class="e">OSCO</text><text x="363" y="351" class="e">RSVD</text><text x="363" y="359" class="e">SDI2/MP2/A1</text>
<text x="363" y="368" class="e">SDI3/MP3/A2</text><text x="363" y="376" class="e">SDO2/MP8/A3</text><text x="363" y="384" class="e">SDO3/MP9/A0</text><text x="363" y="393" class="e">DGND</text>
<text transform="translate(236.5,264) rotate(-90)" class="e">AVDD</text>
<text transform="translate(244.5,264) rotate(-90)" class="e">FLTA</text>
<text transform="translate(252.5,264) rotate(-90)" class="e">VOUT0</text>
<text transform="translate(261.5,264) rotate(-90)" class="e">VOUT1</text>
<text transform="translate(269.5,264) rotate(-90)" class="e">VOUT2</text>
<text transform="translate(277.5,264) rotate(-90)" class="e">VOUT3</text>
<text transform="translate(286.5,264) rotate(-90)" class="e">AGND</text>
<text transform="translate(294.5,264) rotate(-90)" class="e">FLTD</text>
<text transform="translate(302.5,264) rotate(-90)" class="e">CM</text>
<text transform="translate(311.5,264) rotate(-90)" class="e">PLLM1</text>
<text transform="translate(319.5,264) rotate(-90)" class="e">PLLM0</text>
<text transform="translate(327.5,264) rotate(-90)" class="e">AGND</text>
<text transform="translate(236.5,429) rotate(-90)">DVDD</text>
<text transform="translate(244.5,429) rotate(-90)">MP7/SDO1</text>
<text transform="translate(252.5,429) rotate(-90)">MP6/SDO0</text>
<text transform="translate(261.5,429) rotate(-90)">MP10/LRCKO</text>
<text transform="translate(269.5,429) rotate(-90)">VDRIVE</text>
<text transform="translate(278.5,429) rotate(-90)">IOVDD</text>
<text transform="translate(286.5,429) rotate(-90)">MP11/BCLKO</text>
<text transform="translate(294.5,429) rotate(-90)">ADDR1/CDATA/WB</text>
<text transform="translate(302.5,429) rotate(-90)">CLTWP</text>
<text transform="translate(311.5,429) rotate(-90)">SDA/COUT</text>
<text transform="translate(319.5,429) rotate(-90)">SCL/CCKL</text>
<text transform="translate(327.5,429) rotate(-90)">DVDD</text>
</g>
<g class="n">
<text x="191" y="300" class="e">1</text><text x="191" y="309" class="e">2</text><text x="191" y="317" class="e">3</text><text x="191" y="326" class="e">4</text>
<text x="191" y="334" class="e">5</text><text x="191" y="342" class="e">6</text><text x="191" y="350" class="e">7</text><text x="191" y="358" class="e">8</text>
<text x="191" y="366" class="e">9</text><text x="191" y="374" class="e">10</text><text x="191" y="383" class="e">11</text><text x="191" y="391" class="e">12</text>
<text x="369" y="298">36</text><text x="369" y="307">35</text><text x="369" y="315">34</text><text x="369" y="324">33</text>
<text x="369" y="332">32</text><text x="369" y="340">31</text><text x="369" y="348">30</text><text x="369" y="356">29</text>
<text x="369" y="365">28</text><text x="369" y="373">27</text><text x="369" y="381">26</text><text x="369" y="390">25</text>
<text transform="translate(233,258) rotate(-90)">48</text><text transform="translate(241,258) rotate(-90)">47</text>
<text transform="translate(249,258) rotate(-90)">46</text><text transform="translate(258,258) rotate(-90)">45</text>
<text transform="translate(266,258) rotate(-90)">44</text><text transform="translate(274,258) rotate(-90)">43</text>
<text transform="translate(283,258) rotate(-90)">42</text><text transform="translate(291,258) rotate(-90)">41</text>
<text transform="translate(299,258) rotate(-90)">40</text><text transform="translate(308,258) rotate(-90)">39</text>
<text transform="translate(316,258) rotate(-90)">38</text><text transform="translate(324,258) rotate(-90)">37</text>
<text transform="translate(233,445) rotate(-90)">13</text><text transform="translate(241,445) rotate(-90)">14</text>
<text transform="translate(249,445) rotate(-90)">15</text><text transform="translate(258,445) rotate(-90)">16</text>
<text transform="translate(266,445) rotate(-90)">17</text><text transform="translate(275,445) rotate(-90)">18</text>
<text transform="translate(283,445) rotate(-90)">19</text><text transform="translate(291,445) rotate(-90)">20</text>
<text transform="translate(299,445) rotate(-90)">21</text><text transform="translate(308,445) rotate(-90)">22</text>
<text transform="translate(316,445) rotate(-90)">23</text><text transform="translate(324,445) rotate(-90)">24</text>
</g>

<text x="195" y="195">C7</text><text x="187" y="203">0.1uF</text><text x="195" y="210">C8</text><text x="189" y="218">10uF</text>
<text x="213" y="229" class="m">C9</text><text x="215" y="236" class="m">0.1uF</text>
<text x="342" y="144">C10</text><text x="340" y="152">0.1uF</text><text x="342" y="160">C11</text><text x="343" y="168">10uF</text>
<text x="342" y="176">C12</text><text x="340" y="184">0.1uF</text><text x="342" y="192">C13</text><text x="343" y="200">10uF</text>
<text x="327" y="211">PLLM1</text><text x="327" y="220">PLLM0</text>
<text x="389" y="244">V3A</text><text x="438" y="244">V33</text>
<text x="395" y="224">C14</text><text x="393" y="232">0.1uF</text>
<text x="385" y="263">C19</text><text x="384" y="271">56nF</text><text x="385" y="286">R23</text><text x="384" y="294">475R</text>
<text x="433" y="257">C20</text><text x="433" y="266">3.3nF</text>
<text x="470" y="297">C21</text><text x="463" y="305">0.1uF</text><text x="461" y="313">V33</text>
<text x="389" y="331">MCLKO</text><text x="395" y="356">MP2</text><text x="395" y="364">MP3</text><text x="395" y="373">MP8</text><text x="395" y="381">MP9</text>

<text x="404" y="18" class="m">FB1</text><text x="360" y="25">BLM18SP601SN1D</text>
<text x="471" y="27" class="m">U6</text><text x="471" y="35" class="m">AP7361C-33ER-13</text>
<text x="453" y="46">VO</text><text x="453" y="55">VO</text><text x="477" y="46">VI</text>
<text transform="translate(472,67) rotate(-90)">ADJ</text>
<text x="445" y="42" class="n">2</text><text x="445" y="51" class="n">4</text><text x="491" y="42" class="n">3</text><text x="465" y="74" class="n">1</text>
<text x="328" y="41">V3A</text><text x="362" y="58" class="m">CE8</text><text x="358" y="67" class="m">10uFT</text><text x="391" y="54">+</text>
<text x="335" y="90">V33</text><text x="362" y="109" class="m">CE9</text><text x="358" y="117" class="m">10uFT</text><text x="391" y="103">+</text>
<text x="447" y="105">C25</text><text x="447" y="113">10uF</text><text x="485" y="86">C26</text><text x="486" y="93">10uF</text>
<text x="518" y="41">V50</text><text x="542" y="63">R27</text><text x="542" y="73">2.2k</text>
<text x="507" y="102">LD1</text><text x="507" y="110">PWR</text><text x="556" y="101">CE10</text><text x="540" y="109">100uFT/10V</text><text x="570" y="52">+</text>
<text x="590" y="31" class="m">F1</text><text x="572" y="37" class="m">0ZCK0050FF2E</text>
<text x="609" y="9">USBI5V</text><text x="640" y="10" class="n">1</text><text x="640" y="19" class="n">2</text><text x="659" y="19">USBI5V</text>
<text x="640" y="42" class="n">1</text><text x="640" y="51" class="n">2</text><text x="659" y="51">PWR5V</text>
<text x="459" y="166">M0</text><text x="423" y="171">V33</text><text x="423" y="180">PLLM0</text>
<text x="456" y="172" class="n e">1</text><text x="456" y="181" class="n e">2</text><text x="456" y="189" class="n e">3</text>
<text x="523" y="166">M1</text><text x="488" y="171">V33</text><text x="488" y="180">PLLM1</text>
<text x="520" y="172" class="n e">1</text><text x="520" y="181" class="n e">2</text><text x="520" y="189" class="n e">3</text>
<text x="648" y="124">UPC</text>
<text x="619" y="131">V50</text><text x="619" y="147">V33</text><text x="619" y="164">SDA</text><text x="619" y="172">SCL</text>
<text x="619" y="180">MR</text><text x="619" y="189">SBT</text><text x="619" y="197">WB</text><text x="619" y="205">MP1</text>
<g class="n">
<text x="651" y="131" class="e">1</text><text x="651" y="140" class="e">2</text><text x="651" y="148" class="e">3</text><text x="651" y="156" class="e">4</text><text x="651" y="164" class="e">5</text>
<text x="651" y="172" class="e">6</text><text x="651" y="180" class="e">7</text><text x="651" y="189" class="e">8</text><text x="651" y="197" class="e">9</text><text x="651" y="205" class="e">10</text>
</g>

<text x="533" y="254">LRCK</text><text x="506" y="260">LRCKI</text><text x="506" y="268">LRCKO</text>
<text x="533" y="286">BCLK</text><text x="506" y="291">BCLKI</text><text x="506" y="300">BCLKO</text>
<text x="536" y="320">OSC</text><text x="506" y="324">OSCO</text><text x="506" y="333">MCLKO</text>
<text x="533" y="351">MCLK</text><text x="506" y="356">MCLKI</text><text x="506" y="365">MCLKO</text>
<g class="n">
<text x="539" y="261" class="e">1</text><text x="539" y="269" class="e">2</text><text x="539" y="292" class="e">1</text><text x="539" y="301" class="e">2</text>
<text x="539" y="325" class="e">1</text><text x="539" y="334" class="e">2</text><text x="539" y="357" class="e">1</text><text x="539" y="366" class="e">2</text>
</g>
<text x="654" y="246">GPIO</text>
<text x="618" y="252">V33</text><text x="618" y="260">MP1</text><text x="618" y="268">MP9</text><text x="618" y="276">MP3</text><text x="618" y="284">SDA</text>
<text x="685" y="252">GND</text><text x="685" y="260">MP7</text><text x="685" y="268">MP8</text><text x="685" y="276">MP2</text><text x="685" y="284">SCL</text>
<text x="655" y="310">I2SO</text>
<text x="618" y="314">V50</text><text x="618" y="322">MCLKO</text><text x="618" y="330">LRCKO</text><text x="618" y="338">SDO</text><text x="618" y="346">SDA</text>
<text x="685" y="314">GND</text><text x="685" y="322">GND</text><text x="685" y="330">BCLKO</text><text x="685" y="338">RES</text><text x="685" y="346">SCL</text>
<text x="657" y="375">I2SI</text>
<text x="620" y="379">GND</text><text x="620" y="387">GND</text><text x="620" y="395">BCLKI</text><text x="620" y="403">RES</text><text x="620" y="411">SCL</text>
<text x="685" y="379">V50</text><text x="685" y="387">MCLKI</text><text x="685" y="395">LRCKI</text><text x="685" y="403">SDI</text><text x="685" y="411">SDA</text>
<g class="n">
<text x="650" y="252" class="e">1</text><text x="650" y="260" class="e">3</text><text x="650" y="268" class="e">5</text><text x="650" y="276" class="e">7</text><text x="650" y="284" class="e">9</text>
<text x="675" y="252">2</text><text x="675" y="260">4</text><text x="675" y="268">6</text><text x="675" y="276">8</text><text x="675" y="284">10</text>
<text x="650" y="314" class="e">1</text><text x="650" y="322" class="e">3</text><text x="650" y="330" class="e">5</text><text x="650" y="338" class="e">7</text><text x="650" y="346" class="e">9</text>
<text x="675" y="314">2</text><text x="675" y="322">4</text><text x="675" y="330">6</text><text x="675" y="338">8</text><text x="675" y="346">10</text>
<text x="650" y="379" class="e">1</text><text x="650" y="387" class="e">3</text><text x="650" y="395" class="e">5</text><text x="650" y="403" class="e">7</text><text x="650" y="411" class="e">9</text>
<text x="675" y="379">2</text><text x="675" y="387">4</text><text x="675" y="395">6</text><text x="675" y="403">8</text><text x="675" y="411">10</text>
<text x="449" y="398" class="e">1</text><text x="449" y="406" class="e">3</text><text x="449" y="413" class="e">5</text><text x="449" y="421" class="e">7</text><text x="449" y="430" class="e">9</text>
<text x="475" y="398">2</text><text x="475" y="406">4</text><text x="475" y="413">6</text><text x="475" y="421">8</text><text x="475" y="430">10</text>
<text x="562" y="406" class="e">1</text><text x="562" y="414" class="e">2</text><text x="562" y="422" class="e">3</text><text x="562" y="431" class="e">4</text>
</g>
<text x="453" y="391">USBI</text><text x="427" y="398">SCL</text><text x="427" y="406">SDA</text><text x="483" y="406">USBI5V</text><text x="483" y="413">MR</text>
<text x="565" y="399">I2C</text><text x="536" y="406">GND</text><text x="536" y="414">V33</text><text x="536" y="422">SDA</text><text x="536" y="431">SCL</text>
<text x="577" y="410">GND</text><text x="577" y="418">V33</text><text x="577" y="427">SDA</text><text x="577" y="435">SCL</text>

<text x="519" y="467" class="m">XT</text><text x="515" y="474" class="m">11.2896MHz</text>
<text x="522" y="485" class="m">R24</text><text x="522" y="492" class="m">2.2M</text>
<text x="610" y="470" class="m">U5</text><text x="581" y="480">LVC1404DCU</text>
<text x="581" y="490">CTRL</text><text x="581" y="499">XOUT</text><text x="581" y="507">XIN</text><text x="581" y="515">GND</text>
<text x="640" y="490" class="e">VCC</text><text x="640" y="499" class="e">OSCOUT</text><text x="640" y="507" class="e">A</text><text x="640" y="515" class="e">Y</text>
<g class="n">
<text x="575" y="485" class="e">1</text><text x="575" y="493" class="e">2</text><text x="575" y="500" class="e">3</text><text x="575" y="508" class="e">4</text>
<text x="645" y="487">8</text><text x="645" y="494">7</text><text x="645" y="501">6</text><text x="645" y="508">5</text>
</g>
<text x="678" y="460">C22</text><text x="678" y="468">0.1uF</text><text x="686" y="483">FB3</text><text x="718" y="486">V33</text>
<text x="667" y="500">BLM18SP601SN1D</text><text x="660" y="504">R26</text><text x="662" y="522">22R</text><text x="690" y="506">OSCO</text>
<text x="528" y="522">R25</text><text x="535" y="530">1k</text>
<text x="503" y="580" class="m">C23</text><text x="503" y="588" class="m">22pF</text><text x="550" y="580" class="m">C24</text><text x="550" y="588" class="m">22pF</text>
<text x="578" y="527">XT</text>
<text x="578" y="537">11.2896MHz: fs=44.1kHz</text><text x="578" y="546">12.288MHz: fs=48kHz</text>
<text x="578" y="555">22.5792MHz: fs=88.2kHz</text><text x="578" y="564">24.576MHz: fs=96kHz</text><text x="578" y="572">fs/f=256</text>

<text x="355" y="598">C31</text><text x="352" y="606">10nF</text><text x="355" y="614">ENCA</text>
<text x="403" y="610" class="m">R38</text><text x="403" y="628" class="m">10k</text><text x="451" y="610" class="m">R36</text><text x="451" y="628" class="m">10k</text><text x="470" y="614">V33</text>
<text x="355" y="638">ENCB</text><text x="353" y="650">C30</text><text x="352" y="658">10nF</text>
<text x="403" y="634" class="m">R39</text><text x="403" y="652" class="m">10k</text><text x="451" y="634" class="m">R37</text><text x="451" y="652" class="m">10k</text><text x="470" y="638">V33</text>
<text x="477" y="672">ENC</text><text x="445" y="686">V33</text><text x="445" y="695">EA</text><text x="445" y="703">EB</text>
<g class="n"><text x="479" y="680" class="e">1</text><text x="479" y="688" class="e">2</text><text x="479" y="696" class="e">3</text><text x="479" y="704" class="e">4</text></g>

<text x="528" y="607">MP1</text><text x="510" y="625">MP1</text><text x="510" y="643">MP7</text><text x="527" y="674">MP7</text>
<text x="549" y="617">R40</text><text x="549" y="625">47k</text><text x="568" y="617">R41</text><text x="568" y="625">47k</text>
<text x="622" y="609" class="m">U7</text><text x="621" y="619" class="m">74LVC2G06GW</text>
<text x="596" y="630">1A</text><text x="596" y="639">GND</text><text x="596" y="648">2A</text>
<text x="646" y="630" class="e">1Y</text><text x="646" y="639" class="e">VCC</text><text x="646" y="648" class="e">2Y</text>
<g class="n"><text x="591" y="625" class="e">1</text><text x="591" y="634" class="e">2</text><text x="591" y="643" class="e">3</text>
<text x="652" y="625">6</text><text x="652" y="634">5</text><text x="652" y="643">4</text></g>
<text x="674" y="617" class="m">R30</text><text x="674" y="624" class="m">2.2k</text><text x="674" y="657" class="m">R31</text><text x="674" y="664" class="m">2.2k</text>
<text x="709" y="607" class="m">LD2</text><text x="709" y="615" class="m">MP1</text><text x="697" y="664" class="m">LD3</text><text x="697" y="671" class="m">MP7</text>
<text x="722" y="625">V33</text><text x="718" y="684" class="m">C29</text><text x="718" y="692" class="m">0.1uF</text>
</g>
</svg>
</body></html>
